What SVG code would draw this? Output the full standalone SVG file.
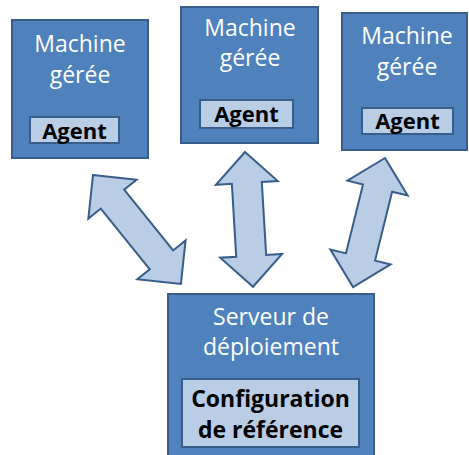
<svg xmlns="http://www.w3.org/2000/svg" width="469" height="455" viewBox="0 0 469 455">
  <style>
    .box { fill: #4f81bd; stroke: #385d8a; stroke-width: 2; }
    .inner { fill: #b9cde5; stroke: #385d8a; stroke-width: 2; }
    .arrow { fill: #b9cde5; stroke: #385d8a; stroke-width: 2; stroke-linejoin: miter; }
    .title { font-family: "Open Sans", "Liberation Sans", sans-serif; font-size: 23px; fill: #ffffff; text-anchor: middle; }
    .label { font-family: "Open Sans", "Liberation Sans", sans-serif; font-size: 22px; font-weight: bold; fill: #000000; text-anchor: middle; }
    .label.big { font-size: 23px; }
  </style>
  <rect width="469" height="455" fill="#ffffff"/>

  <!-- double-headed block arrows between the server and each machine -->
  <g id="connectors">
    <path class="arrow" transform="translate(93,175) rotate(51.1)" d="M0,0 L31,-31 L31,-15 L109,-15 L109,-31 L140,0 L109,31 L109,15 L31,15 L31,31 Z"/>
    <path class="arrow" transform="translate(245,152) rotate(86.6)" d="M0,0 L31,-31 L31,-15 L104,-15 L104,-31 L135,0 L104,31 L104,15 L31,15 L31,31 Z"/>
    <path class="arrow" transform="translate(385,158) rotate(103.9)" d="M0,0 L31,-31 L31,-15 L102,-15 L102,-31 L133,0 L102,31 L102,15 L31,15 L31,31 Z"/>
  </g>

  <!-- managed machines -->
  <g id="machine1">
    <rect class="box" x="12" y="20" width="136" height="138"/>
    <text class="title" x="80" y="52">Machine</text>
    <text class="title" x="80" y="83">gérée</text>
    <rect class="inner" x="30" y="117" width="89" height="26"/>
    <text class="label" x="74.5" y="139">Agent</text>
  </g>
  <g id="machine2">
    <rect class="box" x="181" y="7" width="137" height="136"/>
    <text class="title" x="250" y="36">Machine</text>
    <text class="title" x="250" y="66">gérée</text>
    <rect class="inner" x="200" y="100" width="93" height="28"/>
    <text class="label" x="246.5" y="122">Agent</text>
  </g>
  <g id="machine3">
    <rect class="box" x="342" y="13" width="125" height="137"/>
    <text class="title" x="407" y="44">Machine</text>
    <text class="title" x="407" y="75">gérée</text>
    <rect class="inner" x="362" y="108" width="91" height="26"/>
    <text class="label" x="407.5" y="129">Agent</text>
  </g>

  <!-- deployment server -->
  <g id="server">
    <rect class="box" x="168" y="294" width="206" height="170"/>
    <text class="title" x="271" y="325">Serveur de</text>
    <text class="title" x="271" y="355">déploiement</text>
    <rect class="inner" x="182" y="379" width="177" height="68"/>
    <text class="label big" x="270.5" y="407">Configuration</text>
    <text class="label big" x="270.5" y="438">de référence</text>
  </g>
</svg>
